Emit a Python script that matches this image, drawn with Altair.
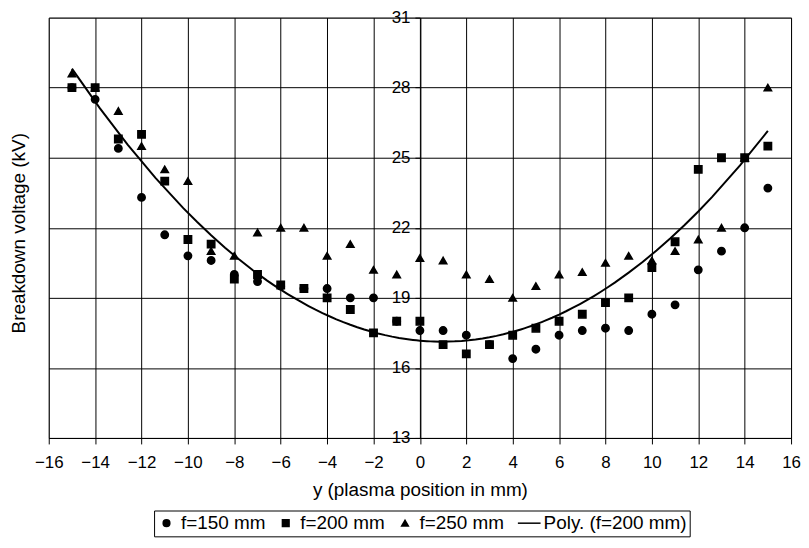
import altair as alt
import pandas as pd

# ---- data ----
x_vals = list(range(-15, 16))
f150 = [28.0, 27.5, 25.4, 23.3, 21.7, 20.8, 20.6, 20.0, 19.7, 19.5, 19.4,
        19.4, 19.0, 19.0, 18.0, 17.6, 17.6, 17.4, 17.0, 16.4, 16.8, 17.4,
        17.6, 17.7, 17.6, 18.3, 18.7, 20.2, 21.0, 22.0, 23.7]
f200 = [28.0, 28.0, 25.8, 26.0, 24.0, 21.5, 21.3, 19.8, 20.0, 19.55, 19.4,
        19.0, 18.5, 17.5, 18.0, 18.0, 17.0, 16.6, 17.0, 17.4, 17.7, 18.0,
        18.3, 18.8, 19.0, 20.3, 21.4, 24.5, 25.0, 25.0, 25.5]
f250 = [28.6, 28.0, 27.0, 25.5, 24.5, 24.0, 21.0, 20.8, 21.8, 22.0, 22.0,
        20.8, 21.3, 20.2, 20.0, 20.7, 20.6, 20.0, 19.8, 19.0, 19.5, 20.0,
        20.1, 20.5, 20.8, 20.6, 21.0, 21.5, 22.0, 25.0, 28.0]
x_ticks = list(range(-16, 17, 2))
y_ticks = [13, 16, 19, 22, 25, 28, 31]
series_names = ["f=150 mm", "f=200 mm", "f=250 mm", "Poly. (f=200 mm)"]
shapes = ["circle", "square", "triangle-up", "M-3.4,0H3.4"]

rows = []
for name, vals in [("f=150 mm", f150), ("f=250 mm", f250), ("f=200 mm", f200)]:
    for xv, v in zip(x_vals, vals):
        rows.append({"x": xv, "v": v, "series": name})
df = pd.DataFrame(rows)

FONT = "Liberation Sans"
W, H = 747, 423

x_scale = alt.Scale(domain=[-16, 16], nice=False, zero=False)
y_scale = alt.Scale(domain=[13, 31], nice=False, zero=False)

x_axis = alt.Axis(values=x_ticks, title="y (plasma position in mm)", grid=True,
                  gridColor="black", gridWidth=1, domainColor="black",
                  tickColor="black", tickSize=6, labelFontSize=17,
                  labelColor="black", labelPadding=11, titleFontSize=19,
                  titleFontWeight="normal", titleColor="black", titlePadding=10,
                  labelFlush=False)
y_axis = alt.Axis(values=y_ticks, title="Breakdown voltage (kV)", grid=True,
                  gridColor="black", gridWidth=1, domainColor="black",
                  tickColor="black", tickSize=5, labelFontSize=17,
                  labelColor="black", labelPadding=5, offset=-W / 2,
                  titleFontSize=19, titleFontWeight="normal", titleColor="black",
                  titleX=-(W / 2) - 30, titleY=H / 2 + 5, titleAngle=270,
                  titleAlign="center", titleBaseline="middle", labelFlush=False)

points = alt.Chart(df).mark_point(
    filled=True, size=55, opacity=1, fill="black", stroke="black", strokeWidth=1.5
).encode(
    x=alt.X("x:Q", scale=x_scale, axis=x_axis),
    y=alt.Y("v:Q", scale=y_scale, axis=y_axis),
    shape=alt.Shape("series:N",
                    scale=alt.Scale(domain=series_names, range=shapes),
                    legend=alt.Legend(title=None, orient="none", legendX=106,
                                      legendY=496, direction="horizontal",
                                      strokeColor="black", fillColor="white",
                                      padding=3, labelFontSize=19,
                                      labelColor="black", symbolSize=45,
                                      columnPadding=10,
                                      labelOffset=5, cornerRadius=0)),
)

trend = alt.Chart(df).transform_filter(
    alt.datum.series == "f=200 mm"
).transform_regression("x", "v", method="poly", order=2).mark_line(
    color="black", strokeWidth=2
).encode(
    x=alt.X("x:Q", scale=x_scale, axis=x_axis),
    y=alt.Y("v:Q", scale=y_scale, axis=y_axis),
)

chart = alt.layer(points, trend).properties(
    width=W, height=H, autosize="none",
    padding={"left": 41, "top": 8, "right": 10, "bottom": 101},
).configure(font=FONT).configure_view(stroke="#808080", strokeWidth=1)

chart.save("out.html", embed_options={"renderer": "svg", "actions": False})
